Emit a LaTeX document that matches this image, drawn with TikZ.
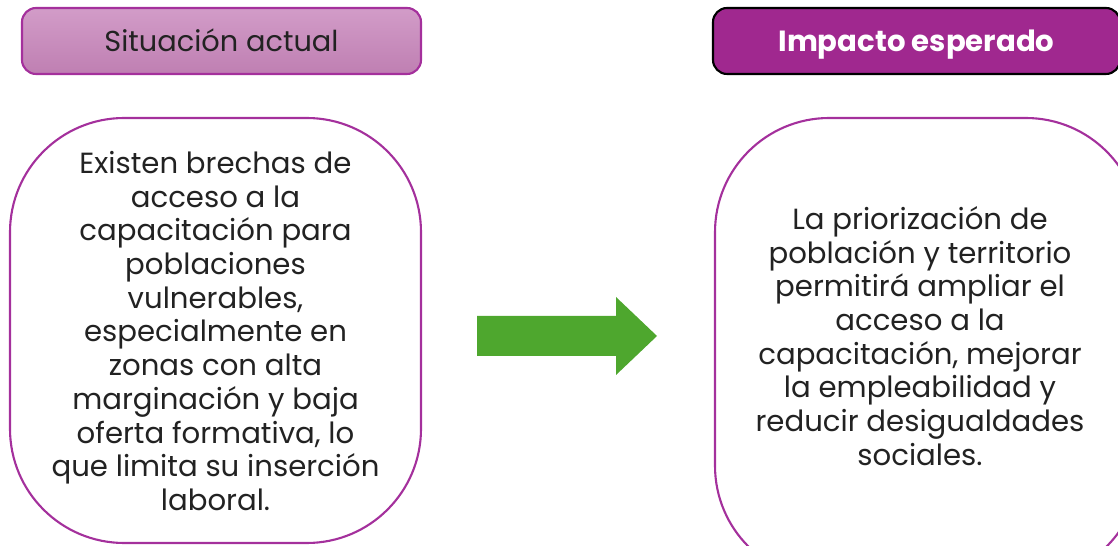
\documentclass[tikz,border=0pt]{standalone}
\usepackage{fontspec}
\setmainfont{Poppins}
\definecolor{morado}{HTML}{A0288F}
\definecolor{moradoclaro}{HTML}{D29CC8}
\definecolor{moradomedio}{HTML}{BF7FB2}
\definecolor{borde}{HTML}{A4309C}
\definecolor{verde}{HTML}{4EA72E}
\definecolor{texto}{HTML}{222222}
\tikzset{
  titulo/.style={rounded corners=8, line width=1.2pt, minimum height=66*0.02cm, inner sep=0pt,
    text height=12pt, text depth=0pt},
  cuerpo/.style={draw=borde, line width=1.2pt, rounded corners=65, fill=white},
  parrafo/.style={text=texto, align=center, font=\fontsize{16.6}{19.2}\selectfont}
}
\begin{document}
\begin{tikzpicture}[x=0.02cm, y=-0.02cm]
  \useasboundingbox (0,0) rectangle (1118,546);
  % encabezados
  \node[titulo, draw=borde, top color=moradoclaro, bottom color=moradomedio,
        minimum width=399*0.02cm, text=texto, font=\fontsize{16.4}{18}\selectfont]
    (sitActual) at (221.5,41) {Situación actual};
  \node[titulo, draw=black, fill=morado, minimum width=407*0.02cm, text=white,
        font=\fontsize{16.6}{18}\selectfont\bfseries]
    (impEsperado) at (916.5,41) {Impacto esperado};
  % cajas
  \draw[cuerpo] (10,118) rectangle (421,543);
  \draw[cuerpo] (715,118) rectangle (1140,580);
  \node[parrafo] (sitTexto) at (215.5,331) {Existen brechas de\\acceso a la\\capacitación para\\poblaciones\\vulnerables,\\especialmente en\\zonas con alta\\marginación y baja\\oferta formativa, lo\\que limita su inserción\\laboral.};
  \node[parrafo] (impTexto) at (920,336) {La priorización de\\población y territorio\\permitirá ampliar el\\acceso a la\\capacitación, mejorar\\la empleabilidad y\\reducir desigualdades\\sociales.};
  % flecha
  \fill[verde] (477,316) -- (616,316) -- (616,297) -- (657,336) -- (616,375)
    -- (616,356) -- (477,356) -- cycle;
\end{tikzpicture}
\end{document}
